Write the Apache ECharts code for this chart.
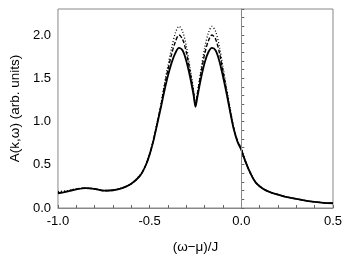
<!DOCTYPE html>
<html><head><meta charset="utf-8">
<script src="https://cdn.jsdelivr.net/npm/echarts@6/dist/echarts.min.js"></script>
<style>html,body{margin:0;padding:0;background:#fff}#c{width:347px;height:265px}</style>
</head><body><div id="c"></div>
<script>
const xs = [-1.0,-0.95,-0.9,-0.85,-0.8,-0.75,-0.7,-0.65,-0.6,-0.55,-0.52,-0.5,-0.48,-0.46,-0.44,-0.42,-0.40,-0.38,-0.36,-0.34,-0.32,-0.30,-0.28,-0.26,-0.25,-0.24,-0.22,-0.20,-0.18,-0.16,-0.14,-0.12,-0.10,-0.08,-0.06,-0.04,-0.02,0.0,0.02,0.05,0.08,0.12,0.16,0.2,0.25,0.3,0.35,0.4,0.45,0.5];
const solid = [0.17,0.19,0.215,0.23,0.22,0.20,0.205,0.23,0.28,0.38,0.50,0.62,0.77,0.96,1.15,1.35,1.53,1.68,1.79,1.85,1.82,1.70,1.52,1.30,1.17,1.28,1.50,1.68,1.80,1.85,1.82,1.70,1.52,1.32,1.10,0.90,0.76,0.67,0.55,0.40,0.29,0.22,0.18,0.155,0.125,0.105,0.085,0.07,0.06,0.055];
const dashed = [0.175,0.195,0.218,0.23,0.22,0.20,0.205,0.23,0.28,0.38,0.50,0.62,0.78,0.97,1.17,1.40,1.60,1.78,1.92,2.00,1.95,1.80,1.58,1.33,1.19,1.31,1.56,1.78,1.93,2.00,1.95,1.80,1.58,1.35,1.12,0.91,0.77,0.68,0.55,0.40,0.29,0.22,0.18,0.155,0.125,0.105,0.085,0.07,0.06,0.055];
const dotted = [0.19,0.20,0.222,0.232,0.222,0.202,0.207,0.232,0.282,0.385,0.505,0.63,0.79,0.98,1.18,1.43,1.65,1.85,2.02,2.10,2.04,1.87,1.62,1.36,1.20,1.33,1.60,1.85,2.02,2.10,2.04,1.87,1.63,1.38,1.14,0.92,0.78,0.69,0.56,0.41,0.295,0.222,0.182,0.156,0.126,0.106,0.086,0.071,0.061,0.056];
const xTickLabels = [-1.0,-0.5,0.0,0.5];
const yTickLabels = [0.0,0.5,1.0,1.5,2.0];
const refX = 0.0;

const pair = a => xs.map((x,i)=>[x,a[i]]);
const isLab = (v, list) => list.some(t => Math.abs(t - v) < 1e-6);
const chart = echarts.init(document.getElementById('c'));
const font = 'Liberation Sans, Arial, sans-serif';
chart.setOption({
  animation:false,
  grid:{left:57,right:14,top:9,bottom:57,show:true,borderColor:'#888',borderWidth:1},
  xAxis:{type:'value',min:-1,max:0.5,interval:0.1,
    name:'(ω−μ)/J',nameLocation:'middle',nameGap:32,
    nameTextStyle:{fontFamily:font,fontSize:13.5,color:'#000'},
    axisLine:{show:true,lineStyle:{color:'#888'}},
    axisTick:{show:true,inside:true,length:3,lineStyle:{color:'#666'}},
    splitLine:{show:false},
    axisLabel:{fontFamily:font,fontSize:13,color:'#000',margin:7,
      formatter:v=>isLab(v,xTickLabels)?v.toFixed(1):''}},
  yAxis:{type:'value',min:0,max:2.3,interval:0.1,
    name:'A(k,ω) (arb. units)',nameLocation:'middle',nameGap:35,
    nameTextStyle:{fontFamily:font,fontSize:13.5,color:'#000'},
    axisLine:{show:true,lineStyle:{color:'#888'}},
    axisTick:{show:true,inside:true,length:3,lineStyle:{color:'#666'}},
    splitLine:{show:false},
    axisLabel:{fontFamily:font,fontSize:13,color:'#000',margin:7,
      formatter:v=>isLab(v,yTickLabels)?v.toFixed(1):''}},
  series:[
    {type:'line',data:pair(dotted),showSymbol:false,smooth:0.3,
     lineStyle:{color:'#000',width:1.3,type:[1,2]},
     markLine:{silent:true,symbol:'none',label:{show:false},
       lineStyle:{color:'#888',type:'solid',width:1},data:[{xAxis:refX}]}},
    {type:'line',data:pair(dashed),showSymbol:false,smooth:0.3,
     lineStyle:{color:'#000',width:1.4,type:[4,2]}},
    {type:'line',data:pair(solid),showSymbol:false,smooth:0.3,
     lineStyle:{color:'#000',width:1.8}}
  ]
});
</script></body></html>
